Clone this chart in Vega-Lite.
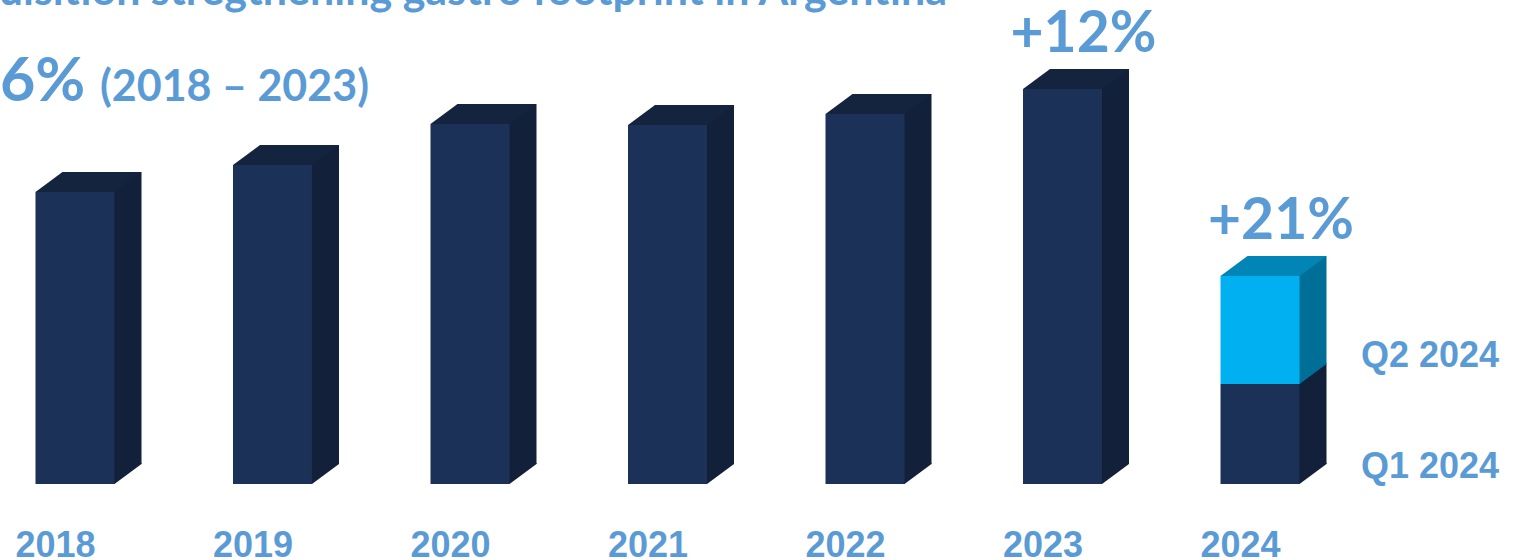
{
  "$schema": "https://vega.github.io/schema/vega-lite/v6.json",
  "width": 1335,
  "height": 400,
  "autosize": "none",
  "padding": {"left": 0, "top": 84, "right": 194, "bottom": 76},
  "background": "white",
  "config": {"view": {"stroke": null}},
  "data": {
    "values": [
      {"year": "2018", "seg": "Year", "value": 292},
      {"year": "2019", "seg": "Year", "value": 319},
      {"year": "2020", "seg": "Year", "value": 360},
      {"year": "2021", "seg": "Year", "value": 359},
      {"year": "2022", "seg": "Year", "value": 370},
      {"year": "2023", "seg": "Year", "value": 395, "growth": "+12%"},
      {"year": "2024", "seg": "Q1 2024", "value": 100},
      {"year": "2024", "seg": "Q2 2024", "value": 108, "growth": "+21%"}
    ]
  },
  "transform": [
    {"stack": "value", "groupby": ["year"], "sort": [{"field": "seg", "order": "ascending"}], "as": ["v0", "v1"]},
    {"joinaggregate": [{"op": "max", "field": "v1", "as": "top"}], "groupby": ["year"]}
  ],
  "encoding": {
    "x": {
      "field": "year",
      "type": "ordinal",
      "scale": {"paddingInner": 0.6, "paddingOuter": 0.1797},
      "axis": {
        "title": null,
        "labelFont": "Liberation Sans",
        "labelFontWeight": "bold",
        "labelFontSize": 36,
        "labelColor": "#5b9bd5",
        "ticks": false,
        "domain": false,
        "grid": false,
        "labelAngle": 0,
        "labelPadding": 72,
        "labelBaseline": "alphabetic",
        "labelOffset": -19.5
      }
    }
  },
  "layer": [
    {
      "mark": {"type": "bar", "width": 30, "xOffset": 51.5, "yOffset": -20, "y2Offset": -20},
      "encoding": {
        "y": {"field": "v1", "type": "quantitative", "scale": {"domain": [0, 400], "nice": false}, "axis": null},
        "y2": {"field": "v0"},
        "color": {"condition": {"test": "datum.seg === 'Q2 2024'", "value": "#006f98"}, "value": "#12203a"}
      }
    },
    {
      "mark": {"type": "point", "shape": "M0.37,0L0.37,-0.21L0.665,-0.21L0.665,-0.2L0.395,0Z", "size": 40000, "filled": true, "opacity": 1, "strokeWidth": 0},
      "encoding": {
        "y": {"field": "v0", "type": "quantitative", "scale": {"domain": [0, 400], "nice": false}, "axis": null},
        "color": {"condition": {"test": "datum.seg === 'Q2 2024'", "value": "#006f98"}, "value": "#12203a"}
      }
    },
    {
      "mark": {"type": "bar"},
      "encoding": {
        "y": {"field": "v1", "type": "quantitative", "scale": {"domain": [0, 400], "nice": false}, "axis": null},
        "y2": {"field": "v0"},
        "color": {"condition": {"test": "datum.seg === 'Q2 2024'", "value": "#00b0f0"}, "value": "#1c3158"}
      }
    },
    {
      "transform": [{"filter": "datum.v1 === datum.top"}],
      "mark": {"type": "point", "shape": "M-0.395,0L-0.125,-0.2L0.665,-0.2L0.395,0Z", "size": 40000, "filled": true, "opacity": 1, "strokeWidth": 0},
      "encoding": {
        "y": {"field": "v1", "type": "quantitative", "scale": {"domain": [0, 400], "nice": false}, "axis": null},
        "color": {"condition": {"test": "datum.seg === 'Q2 2024'", "value": "#0085b6"}, "value": "#14243f"}
      }
    },
    {
      "transform": [{"filter": "datum.growth"}],
      "mark": {"type": "text", "font": "Lato", "fontWeight": "bold", "fontSize": 57, "color": "#5b9bd5", "align": "center", "baseline": "alphabetic", "dx": 21, "dy": -37},
      "encoding": {
        "y": {"field": "v1", "type": "quantitative", "scale": {"domain": [0, 400], "nice": false}, "axis": null},
        "text": {"field": "growth"}
      }
    },
    {
      "transform": [{"filter": "datum.seg === 'Q2 2024'"}],
      "mark": {"type": "text", "font": "Liberation Sans", "fontWeight": "bold", "fontSize": 36, "color": "#5b9bd5", "align": "left", "baseline": "alphabetic", "dx": 101, "dy": -17},
      "encoding": {
        "y": {"field": "v0", "type": "quantitative", "scale": {"domain": [0, 400], "nice": false}, "axis": null},
        "text": {"field": "seg"}
      }
    },
    {
      "transform": [{"filter": "datum.seg === 'Q1 2024'"}],
      "mark": {"type": "text", "font": "Liberation Sans", "fontWeight": "bold", "fontSize": 36, "color": "#5b9bd5", "align": "left", "baseline": "alphabetic", "dx": 101, "dy": -6},
      "encoding": {
        "y": {"field": "v0", "type": "quantitative", "scale": {"domain": [0, 400], "nice": false}, "axis": null},
        "text": {"field": "seg"}
      }
    },
    {
      "data": {"values": [{"label": "6%"}]},
      "mark": {"type": "text", "font": "Lato", "fontWeight": "bold", "fontSize": 61, "color": "#5b9bd5", "align": "left", "baseline": "alphabetic", "dx": -75},
      "encoding": {
        "x": {"datum": "2018"},
        "y": {"datum": 383, "type": "quantitative", "scale": {"domain": [0, 400], "nice": false}, "axis": null},
        "text": {"field": "label"}
      }
    },
    {
      "data": {"values": [{"label": "(2018 – 2023)"}]},
      "mark": {"type": "text", "font": "Lato", "fontWeight": "bold", "fontSize": 43, "color": "#5b9bd5", "align": "left", "baseline": "alphabetic", "dx": 25},
      "encoding": {
        "x": {"datum": "2018"},
        "y": {"datum": 383, "type": "quantitative", "scale": {"domain": [0, 400], "nice": false}, "axis": null},
        "text": {"field": "label"}
      }
    },
    {
      "data": {"values": [{"label": "Acquisition stregthening gastro footprint in Argentina"}]},
      "mark": {"type": "text", "font": "Lato", "fontWeight": "bold", "fontSize": 43, "color": "#5b9bd5", "align": "right", "baseline": "alphabetic", "dx": 82},
      "encoding": {
        "x": {"datum": "2022"},
        "y": {"datum": 479, "type": "quantitative", "scale": {"domain": [0, 400], "nice": false}, "axis": null},
        "text": {"field": "label"}
      }
    }
  ]
}
